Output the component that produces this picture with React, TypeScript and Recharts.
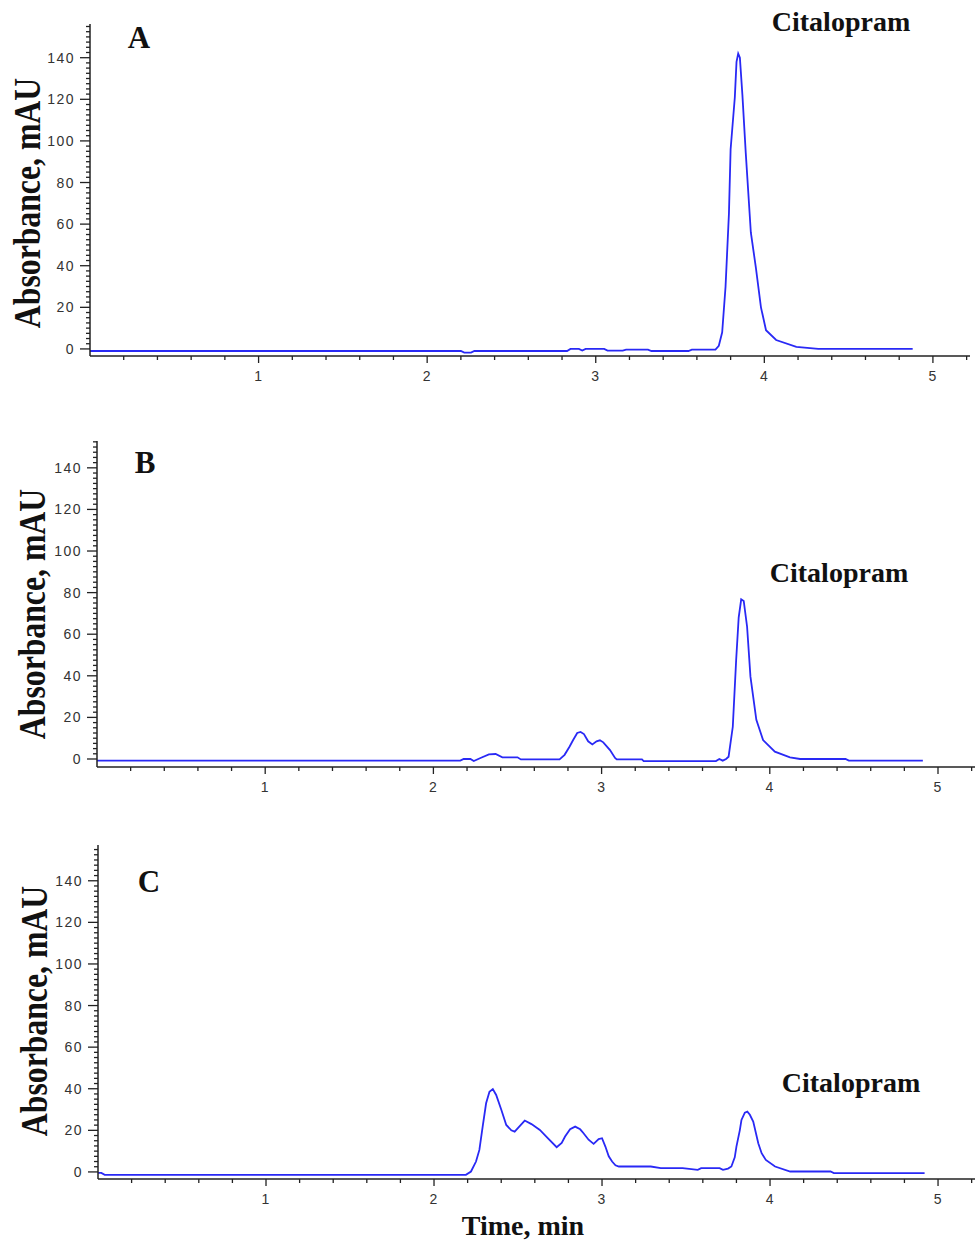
import React from 'react';
import { LineChart, Line, XAxis, YAxis } from 'recharts';

// retention time (min) / absorbance (mAU)
const timeA = [0, 2.2, 2.22, 2.26, 2.28, 2.83, 2.85, 2.9, 2.92, 2.94, 3.05, 3.07, 3.16, 3.18, 3.31, 3.33, 3.55, 3.57, 3.71, 3.73, 3.75, 3.77, 3.79, 3.8, 3.825, 3.835, 3.845, 3.855, 3.87, 3.89, 3.92, 3.95, 3.98, 4.01, 4.07, 4.19, 4.32, 4.88];
const mauA = [-1, -1, -1.8, -1.8, -1, -1, 0, 0, -0.8, 0, 0, -0.8, -0.8, -0.3, -0.3, -1, -1, -0.3, -0.3, 1.5, 8, 30, 65, 96, 121, 138, 142, 140, 122, 94, 56, 39, 20, 9, 4.3, 1, 0, 0];

const timeB = [0, 2.16, 2.18, 2.22, 2.24, 2.28, 2.33, 2.37, 2.41, 2.5, 2.52, 2.75, 2.78, 2.81, 2.83, 2.855, 2.875, 2.895, 2.92, 2.945, 2.97, 2.99, 3.01, 3.05, 3.08, 3.09, 3.24, 3.25, 3.68, 3.7, 3.72, 3.74, 3.755, 3.78, 3.8, 3.815, 3.83, 3.845, 3.865, 3.885, 3.92, 3.96, 4.03, 4.12, 4.18, 4.45, 4.47, 4.91];
const mauB = [-0.8, -0.8, 0, 0, -1, 0.5, 2.2, 2.4, 0.8, 0.8, -0.2, -0.2, 2, 6, 9, 12.5, 13, 12, 8.5, 7, 8.5, 9, 8, 4.3, 0.5, -0.2, -0.2, -1, -1, 0, -0.8, 0, 1.1, 15.5, 47.6, 68, 76.8, 76, 63.6, 39.6, 18.8, 9.1, 3.5, 0.8, 0, 0, -0.8, -0.8];

const timeC = [0, 0.02, 0.04, 2.19, 2.22, 2.25, 2.27, 2.29, 2.31, 2.33, 2.35, 2.37, 2.4, 2.43, 2.46, 2.48, 2.51, 2.54, 2.58, 2.63, 2.68, 2.73, 2.76, 2.78, 2.81, 2.84, 2.87, 2.89, 2.92, 2.95, 2.98, 3.0, 3.02, 3.04, 3.06, 3.08, 3.1, 3.29, 3.35, 3.48, 3.57, 3.59, 3.7, 3.72, 3.75, 3.77, 3.79, 3.8, 3.82, 3.83, 3.85, 3.865, 3.88, 3.9, 3.93, 3.95, 3.975, 4.03, 4.12, 4.36, 4.38, 4.92];
const mauC = [-0.5, -0.5, -1.4, -1.4, 0.2, 5, 10.6, 22, 33, 38.5, 39.8, 37, 30, 22.6, 20, 19.4, 22, 24.7, 23, 20.2, 16, 11.9, 14, 17, 20.5, 21.8, 20.5, 18.6, 15.5, 13.5, 15.8, 16.2, 12.2, 7.5, 5, 3.2, 2.6, 2.6, 1.8, 1.8, 1, 1.8, 1.8, 1, 1.6, 2.6, 7, 12.2, 20, 25, 28.5, 29, 27.5, 24.2, 13.8, 9, 5.8, 2.6, 0.2, 0.2, -0.6, -0.6];

const panelLetters = ['A', 'B', 'C'];
const peakName = 'Citalopram';
const yTitle = 'Absorbance, mAU';
const xTitle = 'Time, min';

// axis ticks: majors labelled, minors every 0.2 min / 2.5 mAU
const xMajor = [1, 2, 3, 4, 5];
const yMajor = [0, 20, 40, 60, 80, 100, 120, 140];
const xTicks = Array.from({ length: 26 }, (_, i) => Math.round((i + 1) * 20) / 100);
const yTicks = Array.from({ length: 63 }, (_, i) => i * 2.5);

const toRows = (t: number[], v: number[]) => t.map((x, i) => ({ t: x, v: v[i] }));

const BLUE = '#2929f5';
const INK = '#222';
const SERIF = '"Liberation Serif", "Times New Roman", serif';
const SANS = '"Liberation Sans", Arial, sans-serif';

const XTick = (props: any) => {
  const { x, y, payload } = props;
  const major = xMajor.some((m) => Math.abs(m - payload.value) < 1e-6);
  return (
    <g>
      <line x1={x} x2={x} y1={y} y2={y + (major ? 7 : 4)} stroke={INK} strokeWidth={1.3} />
      {major && (
        <text x={x} y={y + 25} textAnchor="middle" fontSize={14} letterSpacing={1} fill="#333" fontFamily={SANS}>
          {payload.value}
        </text>
      )}
    </g>
  );
};

const YTick = (props: any) => {
  const { x, y, payload } = props;
  const major = yMajor.includes(payload.value);
  return (
    <g>
      <line x1={x} x2={x - (major ? 10 : 4)} y1={y} y2={y} stroke={INK} strokeWidth={1.3} />
      {major && (
        <text x={x - 15} y={y + 5} textAnchor="end" fontSize={14} letterSpacing={1.5} fill="#333" fontFamily={SANS}>
          {payload.value}
        </text>
      )}
    </g>
  );
};

const panels = [
  { data: toRows(timeA, mauA), top: 0, height: 400, axisX: 90, plotTop: 24, axisY: 356, right: 970, yDomain: [-3.4, 156.2] },
  { data: toRows(timeB, mauB), top: 410, height: 400, axisX: 97, plotTop: 441, axisY: 767, right: 975, yDomain: [-3.85, 152.9] },
  { data: toRows(timeC, mauC), top: 820, height: 423, axisX: 98, plotTop: 845, axisY: 1179, right: 975, yDomain: [-3.4, 157.2] },
];

// text placement per panel (page coordinates)
const labels = [
  { yt: [40, 203], letter: [139, 48], peak: [841, 31] },
  { yt: [45, 614], letter: [145, 473], peak: [839, 582] },
  { yt: [47, 1011], letter: [149, 892], peak: [851, 1092] },
];

const Chromatogram = ({ p }: { p: (typeof panels)[number] }) => (
  <div style={{ position: 'absolute', left: 0, top: p.top, width: 976, height: p.height }}>
    <LineChart
      width={976}
      height={p.height}
      data={p.data}
      margin={{ top: p.plotTop - p.top, right: 976 - p.right, bottom: 0, left: 0 }}
    >
      <XAxis
        dataKey="t"
        type="number"
        domain={[0, 5.22]}
        allowDataOverflow
        ticks={xTicks}
        interval={0}
        tickSize={0}
        tickMargin={0}
        tick={(tp: any) => <XTick {...tp} />}
        height={p.top + p.height - p.axisY}
        axisLine={{ stroke: INK, strokeWidth: 1.5 }}
      />
      <YAxis
        type="number"
        domain={p.yDomain}
        allowDataOverflow
        ticks={yTicks.filter((v) => v <= p.yDomain[1])}
        interval={0}
        tickSize={0}
        tickMargin={0}
        tick={(tp: any) => <YTick {...tp} />}
        width={p.axisX}
        axisLine={{ stroke: INK, strokeWidth: 1.5 }}
      />
      <Line type="linear" dataKey="v" stroke={BLUE} strokeWidth={1.8} dot={false} isAnimationActive={false} />
    </LineChart>
  </div>
);

export default function App() {
  return (
    <div style={{ position: 'absolute', left: 0, top: 0, width: 976, height: 1243, background: '#fff' }}>
      {panels.map((p, i) => (
        <Chromatogram key={i} p={p} />
      ))}
      <svg width={976} height={1243} style={{ position: 'absolute', left: 0, top: 0, pointerEvents: 'none' }}>
        {labels.map((l, i) => (
          <g key={i} fontFamily={SERIF} fontWeight="bold" fill="#111">
            <text
              transform={`translate(${l.yt[0]},${l.yt[1]}) rotate(-90) scale(0.835,1)`}
              textAnchor="middle"
              fontSize={38}
            >
              {yTitle}
            </text>
            <text x={l.letter[0]} y={l.letter[1]} textAnchor="middle" fontSize={31}>
              {panelLetters[i]}
            </text>
            <text x={l.peak[0]} y={l.peak[1]} textAnchor="middle" fontSize={28}>
              {peakName}
            </text>
          </g>
        ))}
        <text x={523} y={1235} textAnchor="middle" fontSize={28} fontFamily={SERIF} fontWeight="bold" fill="#111">
          {xTitle}
        </text>
      </svg>
    </div>
  );
}
